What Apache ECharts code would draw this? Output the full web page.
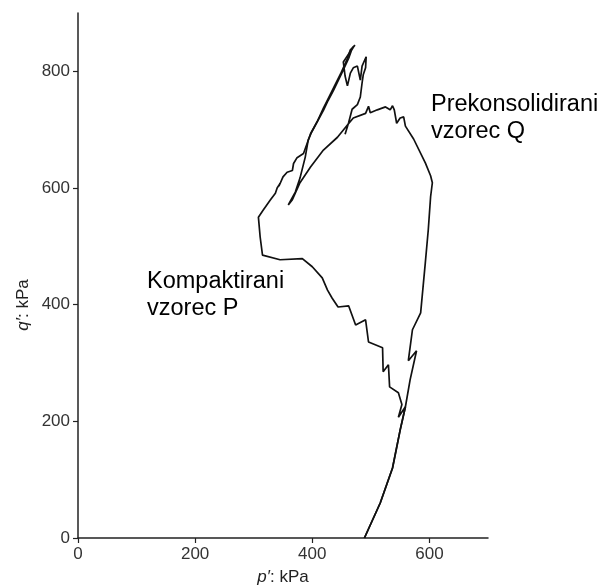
<!DOCTYPE html>
<html>
<head>
<meta charset="utf-8">
<script src="https://cdn.jsdelivr.net/npm/echarts@6/dist/echarts.min.js"></script>
<style>html,body{margin:0;padding:0;background:#fff}#c{width:603px;height:585px}</style>
</head>
<body>
<div id="c"></div>
<script>
// Tick values
var xTicks = [0, 200, 400, 600];
var yTicks = [0, 200, 400, 600, 800];

// Compacted sample P: [p', q'] in kPa
var pathP = [
  [489,0],[516,60],[537,120],[550,185],[559,225],[547,207],[553,229],[547,249],
  [532,259],[530,297],[521,285],[520,326],[496,336],[491,374],[474,365],[462,398],
  [444,396],[434,411],[426,425],[417,446],[400,465],[383,479],[345,477],[315,485],
  [311,516],[308,550],[316,562],[328,579],[337,591],[340,600],[345,608],[343,603],
  [350,619],[357,627],[366,630],[368,642],[374,652],[385,659],[391,676],[397,693],
  [409,715],[419,737],[431,761],[448,795],[460,822],[465,837],[473,845]
];

// Overconsolidated sample Q: [p', q'] in kPa
var pathQ = [
  [489,0],[516,60],[537,120],[550,185],[559,225],[567,271],[578,321],[564,304],
  [571,357],[585,386],[593,472],[598,528],[602,585],[605,609],[602,621],[593,643],
  [573,684],[559,706],[556,722],[550,720],[544,711],[540,734],[537,741],[533,734],
  [525,739],[511,734],[499,729],[496,740],[491,728],[470,720],[460,708],[443,687],
  [419,665],[397,636],[379,609],[366,580],[359,571],[371,593],[379,617],[388,653],
  [393,682],[399,696],[419,733],[427,750],[436,767],[451,798],[462,822],[467,836],
  [471,843],[453,816],[456,792],[460,775],[465,797],[470,806],[477,809],[482,785],
  [485,809],[492,825],[491,806],[487,794],[485,780],[482,756],[477,743],[468,735],
  [462,712],[456,692]
];

var labelP = ['Kompaktirani', 'vzorec P'];
var labelQ = ['Prekonsolidirani', 'vzorec Q'];

var FONT = '"Liberation Sans", Arial, Helvetica, sans-serif';
var chart = echarts.init(document.getElementById('c'), null, {renderer: 'canvas'});
var lineStyle = {color: '#111', width: 1.7};
chart.setOption({
  animation: false,
  backgroundColor: '#fff',
  grid: {left: 78, right: 115, top: 13, bottom: 47, containLabel: false, outerBoundsMode: 'none'},
  xAxis: {
    type: 'value', min: 0, max: 700, interval: 200,
    name: '{i|p′}: kPa', nameLocation: 'middle', nameGap: 31,
    nameTextStyle: {fontFamily: FONT, fontSize: 17, color: '#222',
      rich: {i: {fontStyle: 'italic', fontFamily: FONT, fontSize: 17, color: '#222'}}},
    axisLine: {show: true, onZero: false, lineStyle: {color: '#222', width: 1.5}},
    axisTick: {show: true, length: 5, customValues: xTicks, lineStyle: {color: '#222', width: 1.2}},
    axisLabel: {customValues: xTicks, margin: 8, fontFamily: FONT, fontSize: 17, color: '#333'},
    splitLine: {show: false}
  },
  yAxis: {
    type: 'value', min: 0, max: 900, interval: 200,
    axisLine: {show: true, onZero: false, lineStyle: {color: '#222', width: 1.5}},
    axisTick: {show: true, length: 5, customValues: yTicks, lineStyle: {color: '#222', width: 1.2}},
    axisLabel: {customValues: yTicks, margin: 8, fontFamily: FONT, fontSize: 17, color: '#333'},
    splitLine: {show: false}
  },
  graphic: [
    {type: 'text', x: 23, y: 305, rotation: Math.PI / 2,
     style: {text: '{i|q′}: kPa', fontFamily: FONT, fontSize: 17, fill: '#222',
       align: 'center', verticalAlign: 'middle', textAlign: 'center', textVerticalAlign: 'middle',
       rich: {i: {fontStyle: 'italic', fontFamily: FONT, fontSize: 17, fill: '#222'}}}},
    {type: 'text', x: 147, y: 268,
     style: {text: labelP.join('\n'), fontFamily: FONT, fontSize: 23.5, lineHeight: 27, fill: '#000',
       align: 'left', verticalAlign: 'top', textAlign: 'left', textVerticalAlign: 'top'}},
    {type: 'text', x: 431, y: 91,
     style: {text: labelQ.join('\n'), fontFamily: FONT, fontSize: 23.5, lineHeight: 27, fill: '#000',
       align: 'left', verticalAlign: 'top', textAlign: 'left', textVerticalAlign: 'top'}}
  ],
  series: [
    {name: 'Kompaktirani vzorec P', type: 'line', data: pathP, symbol: 'none', showSymbol: false,
     lineStyle: lineStyle, z: 3},
    {name: 'Prekonsolidirani vzorec Q', type: 'line', data: pathQ, symbol: 'none', showSymbol: false,
     lineStyle: lineStyle, z: 3}
  ]
});
</script>
</body>
</html>
